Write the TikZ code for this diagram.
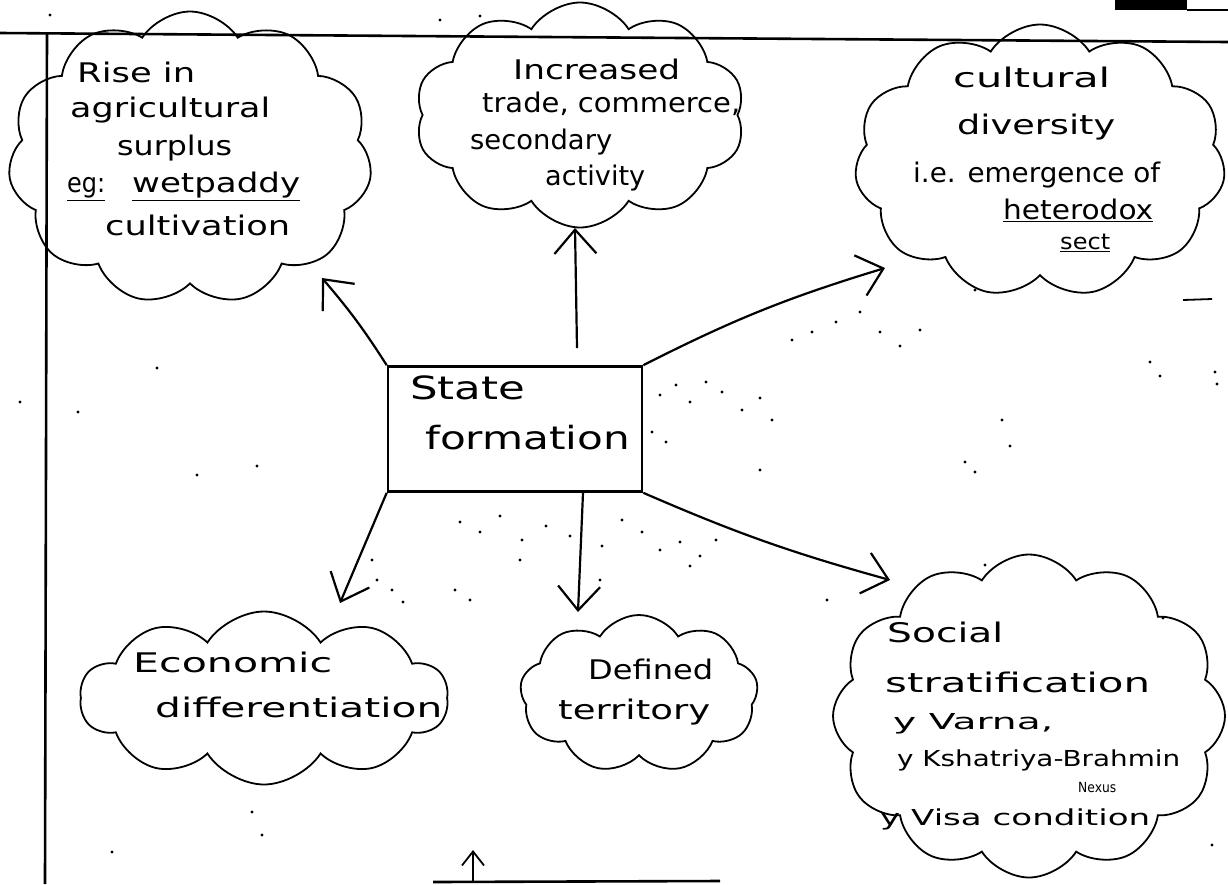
\documentclass[tikz,border=0pt]{standalone}
\usepackage{fontspec}
\setmainfont{DejaVu Sans}
\usetikzlibrary{shapes.symbols,arrows.meta}
\newcommand{\hw}[2]{\resizebox{#1pt}{\height}{#2}}
\begin{document}
\begin{tikzpicture}[x=1pt,y=-1pt,
  cloudy/.style={cloud, cloud puffs=10, cloud puff arc=115, cloud ignores aspect, draw, line width=1.8pt, inner sep=0pt},
  txt/.style={anchor=mid west, inner sep=0pt, font=\fontsize{27}{30}\selectfont},
  stxt/.style={anchor=mid west, inner sep=0pt, font=\fontsize{22}{24}\selectfont},
  arr/.style={-{Straight Barb[length=24pt,width=42pt]}, line width=2.2pt},
  sarr/.style={-{Straight Barb[length=14pt,width=22pt]}, line width=1.8pt},
  frame/.style={line width=2.6pt},
  dot/.style={fill=black}]
\useasboundingbox (0,0) rectangle (1228,884);
\fill[white] (0,0) rectangle (1228,884);

% frame lines
\draw[frame] (0,33) -- (1228,42);
\draw[frame] (47,33) -- (45,884);
\draw[frame] (433,882) -- (720,881);
\fill (1115,0) rectangle (1187,10);
\draw[line width=1.5pt] (1187,10) -- (1228,10);
\draw[line width=1.8pt] (1183,300) -- (1212,299);

% clouds
\node[cloudy, cloud puffs=11, minimum width=364pt, minimum height=293pt] (c1) at (190,158) {};
\node[cloudy, cloud puffs=10, minimum width=330pt, minimum height=225pt] (c2) at (580,115) {};
\node[cloudy, cloud puffs=11, minimum width=371pt, minimum height=273pt] (c3) at (1040,161) {};
\node[cloudy, cloud puffs=10, minimum width=368pt, minimum height=173pt] (c4) at (264,698) {};
\node[cloudy, cloud puffs=9, minimum width=238pt, minimum height=158pt] (c5) at (639,694) {};
\node[cloudy, cloud puffs=12, minimum width=392pt, minimum height=323pt] (c6) at (1029,716) {};

% central box
\node[draw, line width=2.6pt, minimum width=254pt, minimum height=125pt, inner sep=0pt] (sf) at (515,429) {};
\node[txt, font=\fontsize{32}{34}\selectfont] (sf1) at (410,397) {\hw{115}{State}};
\node[txt, font=\fontsize{32}{34}\selectfont] (sf2) at (425,447) {\hw{205}{formation}};

% cloud texts
\node[txt] (t11) at (77,80) {\hw{118}{Rise in}};
\node[txt] (t12) at (70,115) {\hw{200}{agricultural}};
\node[txt] (t13) at (117,153) {\hw{115}{surplus}};
\node[txt] (t14) at (67,190) {\hw{38}{\underline{eg:}}};
\node[txt] (t15) at (132,190) {\hw{168}{\underline{wetpaddy}}};
\node[txt] (t16) at (105,233) {\hw{185}{cultivation}};

\node[txt] (t21) at (513,77) {\hw{167}{Increased}};
\node[txt] (t22) at (482,110) {\hw{258}{trade, commerce,}};
\node[txt] (t23) at (470,147) {\hw{142}{secondary}};
\node[txt] (t24) at (545,183) {\hw{100}{activity}};

\node[txt] (t31) at (953,85) {\hw{157}{cultural}};
\node[txt] (t32) at (957,132) {\hw{158}{diversity}};
\node[txt] (t33) at (913,180) {\hw{247}{i.e. emergence of}};
\node[txt] (t34) at (1003,217) {\hw{150}{\underline{heterodox}}};
\node[stxt] (t35) at (1060,247) {\hw{50}{\underline{sect}}};

\node[txt] (t41) at (133,670) {\hw{199}{Economic}};
\node[txt] (t42) at (155,715) {\hw{287}{differentiation}};

\node[txt] (t51) at (588,677) {\hw{125}{Defined}};
\node[txt] (t52) at (558,717) {\hw{152}{territory}};

\node[txt] (t61) at (887,640) {\hw{116}{Social}};
\node[txt] (t62) at (885,690) {\hw{265}{stratification}};
\node[stxt] (t63) at (893,727) {\hw{160}{y Varna,}};
\node[stxt] (t64) at (897,764) {\hw{283}{y Kshatriya-Brahmin}};
\node[anchor=mid west, inner sep=0pt, font=\fontsize{14}{15}\selectfont] (t65) at (1078,790) {\hw{38}{Nexus}};
\node[stxt] (t66) at (880,823) {\hw{270}{y Visa condition}};

% arrow end points
\coordinate (e1) at (322,278);
\coordinate (e2) at (575,228);
\coordinate (e3) at (885,268);
\coordinate (e4) at (340,603);
\coordinate (e5) at (578,612);
\coordinate (e6) at (890,580);
\coordinate (b0) at (473,882);
\coordinate (b1) at (473,850);

\draw[arr] (sf.north west) to[bend right=4] (e1);
\draw[arr] ([xshift=62pt,yshift=17pt]sf.north) -- (e2);
\draw[arr] (sf.north east) to[bend left=5] (e3);
\draw[arr] (sf.south west) -- (e4);
\draw[arr] ([xshift=68pt]sf.south) -- (e5);
\draw[arr] (sf.south east) to[bend right=4] (e6);
\draw[sarr] (b0) -- (b1);

% scanner speckle
\foreach \p in {(660,395),(676,385),(690,402),(706,382),(722,392),(742,410),(760,398),(772,420),(652,432),(666,442),
  (792,340),(812,332),(836,322),(860,312),(880,332),(900,346),(920,330),(965,462),(975,472),(1002,420),(1010,446),
  (1150,362),(1160,376),(1215,372),(1217,384),(460,522),(480,532),(500,516),(522,540),(546,526),(570,536),(602,546),
  (622,520),(642,532),(660,550),(680,542),(700,556),(716,540),(690,566),(372,560),(377,580),(392,590),(403,602),
  (20,402),(78,412),(157,368),(197,475),(257,466),(112,852),(262,835),(252,812),(50,15),(480,16),(760,470),
  (455,590),(470,600),(520,560),(600,580),(985,565),(1212,845),(1163,618),(827,600),(440,20),(975,290)}
  \fill[dot] \p circle (1.6pt);
\end{tikzpicture}
\end{document}
